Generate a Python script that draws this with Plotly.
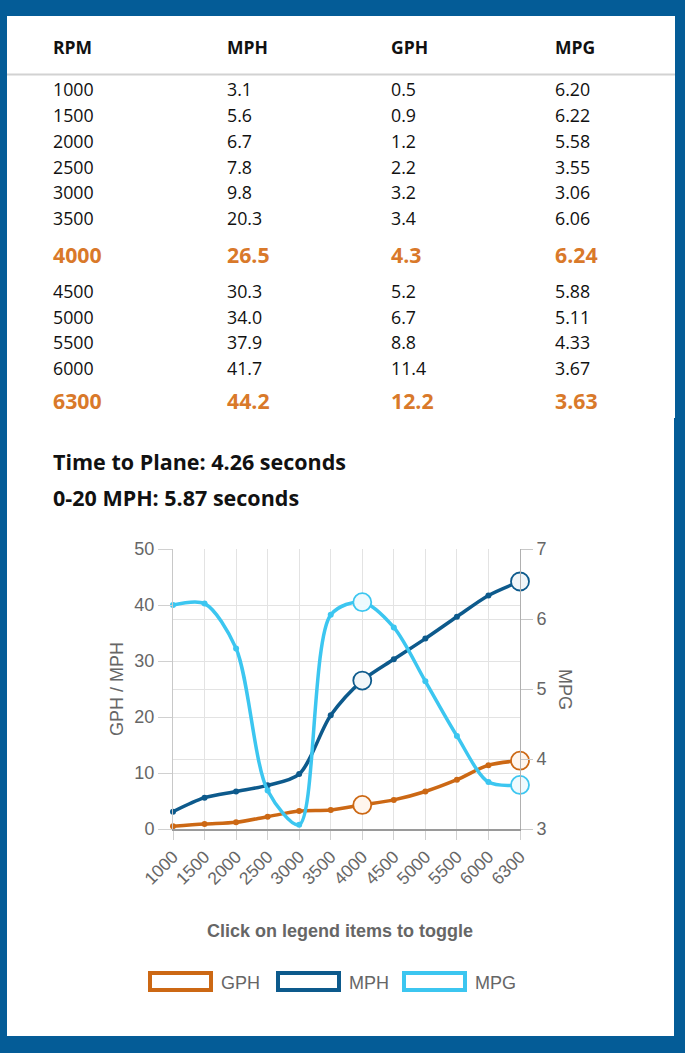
import plotly.graph_objects as go

# ---------------- data ----------------
RPM = ["1000", "1500", "2000", "2500", "3000", "3500", "4000", "4500", "5000", "5500", "6000", "6300"]
MPH = [3.1, 5.6, 6.7, 7.8, 9.8, 20.3, 26.5, 30.3, 34.0, 37.9, 41.7, 44.2]
GPH = [0.5, 0.9, 1.2, 2.2, 3.2, 3.4, 4.3, 5.2, 6.7, 8.8, 11.4, 12.2]
MPG = [6.20, 6.22, 5.58, 3.55, 3.06, 6.06, 6.24, 5.88, 5.11, 4.33, 3.67, 3.63]
HIGHLIGHT_RPM = ["4000", "6300"]
TABLE_HEADERS = ["RPM", "MPH", "GPH", "MPG"]
TIME_TO_PLANE = "4.26"
ZERO_TO_20 = "5.87"
LEFT_RANGE = [0, 50]
RIGHT_RANGE = [3, 7]

# ---------------- style ----------------
W, H = 685, 1053
PL, PR, PT, PB = 173, 520, 549, 829  # plot area in pixels
BLUE_BG = "#045c97"
C_GPH = "#cc6814"
C_MPH = "#0d5a8c"
C_MPG = "#3cc6f0"
ORANGE_TXT = "#d9792a"
GRAY = "#666666"
GRID = "#e3e3e3"
CHART_FONT = "Liberation Sans, Arial, sans-serif"
TABLE_FONT = "Open Sans, sans-serif"


def px(x):
    return (x - PL) / (PR - PL)


def py(y):
    return (PB - y) / (PB - PT)


fig = go.Figure()

hl_idx = [RPM.index(r) for r in HIGHLIGHT_RPM]

series = [
    ("GPH", GPH, C_GPH, "y", "#fff6ee"),
    ("MPH", MPH, C_MPH, "y", "#f1f6f9"),
    ("MPG", MPG, C_MPG, "y2", "#eefafe"),
]
for name, vals, col, yax, fill in series:
    fig.add_trace(go.Scatter(
        x=RPM, y=vals, name=name, yaxis=yax, mode="lines+markers",
        line=dict(color=col, width=3.5, shape="spline", smoothing=0.85),
        marker=dict(size=6, color=col), cliponaxis=False, showlegend=False,
    ))
for name, vals, col, yax, fill in series:
    fig.add_trace(go.Scatter(
        x=[RPM[i] for i in hl_idx], y=[vals[i] for i in hl_idx], yaxis=yax,
        mode="markers", name=name + " selected",
        marker=dict(size=18, color=fill, line=dict(color=col, width=1.8)),
        cliponaxis=False, showlegend=False,
    ))

shapes = []
annotations = []

# white panels
shapes.append(dict(type="rect", xref="paper", yref="paper", layer="below",
                   x0=px(7), x1=px(675), y0=py(16), y1=py(418),
                   fillcolor="white", line=dict(width=0)))
shapes.append(dict(type="rect", xref="paper", yref="paper", layer="below",
                   x0=px(7), x1=px(674), y0=py(417), y1=py(1036),
                   fillcolor="white", line=dict(width=0)))
# header separator
shapes.append(dict(type="line", xref="paper", yref="paper", layer="below",
                   x0=px(7), x1=px(675), y0=py(74.5), y1=py(74.5),
                   line=dict(color="#d2d2d2", width=2)))

COL_X = [51, 225, 389, 553]
for cx, h in zip(COL_X, TABLE_HEADERS):
    annotations.append(dict(xref="paper", yref="paper", x=px(cx), y=py(46.5),
                            text="<b>%s</b>" % h, showarrow=False, xanchor="left", yanchor="middle",
                            font=dict(family=TABLE_FONT, size=17.5, color="#111111")))

y = 89.5
prev_hl = False
for i, r in enumerate(RPM):
    is_hl = r in HIGHLIGHT_RPM
    if i > 0:
        if is_hl and i == len(RPM) - 1:
            y += 32
        elif is_hl or prev_hl:
            y += 36.5
        else:
            y += 25.7
    cells = [r, "%.1f" % MPH[i], "%.1f" % GPH[i], "%.2f" % MPG[i]]
    for cx, c in zip(COL_X, cells):
        if is_hl:
            txt, fnt = "<b>%s</b>" % c, dict(family=TABLE_FONT, size=21.3, color=ORANGE_TXT)
        else:
            txt, fnt = c, dict(family=TABLE_FONT, size=17.8, color="#111111")
        annotations.append(dict(xref="paper", yref="paper", x=px(cx), y=py(y),
                                text=txt, showarrow=False, xanchor="left", yanchor="middle", font=fnt))
    prev_hl = is_hl

annotations.append(dict(xref="paper", yref="paper", x=px(51), y=py(461),
                        text="<b>Time to Plane: %s seconds</b>" % TIME_TO_PLANE, showarrow=False,
                        xanchor="left", yanchor="middle",
                        font=dict(family=TABLE_FONT, size=21.5, color="#111111")))
annotations.append(dict(xref="paper", yref="paper", x=px(51), y=py(497),
                        text="<b>0-20 MPH: %s seconds</b>" % ZERO_TO_20, showarrow=False,
                        xanchor="left", yanchor="middle",
                        font=dict(family=TABLE_FONT, size=21.5, color="#111111")))

# axis titles
annotations.append(dict(xref="paper", yref="paper", x=px(117), y=py(689), text="GPH / MPH",
                        textangle=-90, showarrow=False, xanchor="center", yanchor="middle",
                        font=dict(family=CHART_FONT, size=18, color=GRAY)))
annotations.append(dict(xref="paper", yref="paper", x=px(565), y=py(689), text="MPG",
                        textangle=90, showarrow=False, xanchor="center", yanchor="middle",
                        font=dict(family=CHART_FONT, size=18, color=GRAY)))

# legend
annotations.append(dict(xref="paper", yref="paper", x=px(339.5), y=py(931),
                        text="<b>Click on legend items to toggle</b>", showarrow=False,
                        xanchor="center", yanchor="middle",
                        font=dict(family=CHART_FONT, size=18, color=GRAY)))
LEG_X = [148, 276, 402]
for lx, (name, vals, col, yax, fill) in zip(LEG_X, series):
    shapes.append(dict(type="rect", xref="paper", yref="paper",
                       x0=px(lx + 2), x1=px(lx + 63), y0=py(973), y1=py(990),
                       fillcolor="white", line=dict(color=col, width=4)))
    annotations.append(dict(xref="paper", yref="paper", x=px(lx + 71), y=py(983), text=name,
                            showarrow=False, xanchor="left", yanchor="middle",
                            font=dict(family=CHART_FONT, size=18, color=GRAY)))

fig.update_layout(
    width=W, height=H,
    margin=dict(l=PL, r=W - PR, t=PT, b=H - PB, pad=0),
    paper_bgcolor=BLUE_BG, plot_bgcolor="white",
    font=dict(family=CHART_FONT, color=GRAY),
    showlegend=False,
    shapes=shapes, annotations=annotations,
    xaxis=dict(type="category", range=[0, len(RPM) - 1], showgrid=True, gridcolor=GRID,
               showline=True, linecolor="#9a9a9a", linewidth=1.5,
               ticks="outside", ticklen=9, tickcolor="#d0d0d0", tickangle=-45,
               tickfont=dict(size=17.5, color=GRAY), fixedrange=True),
    yaxis=dict(range=LEFT_RANGE, dtick=10, showgrid=True, gridcolor=GRID, zeroline=False,
               showline=True, linecolor="#c8c8c8",
               ticks="outside", ticklen=14, tickcolor="#d0d0d0",
               tickfont=dict(size=18, color=GRAY)),
    yaxis2=dict(range=RIGHT_RANGE, dtick=1, overlaying="y", side="right", showgrid=True,
                gridcolor=GRID, zeroline=False, showline=True, linecolor="#b0b0b0",
                ticks="outside", ticklen=12, tickcolor="#c8c8c8",
                tickfont=dict(size=18, color=GRAY)),
)

fig.write_html(
    "out.html",
    config={"displayModeBar": False},
    post_script="document.body.style.margin='0';document.body.style.background='%s';" % BLUE_BG,
)
